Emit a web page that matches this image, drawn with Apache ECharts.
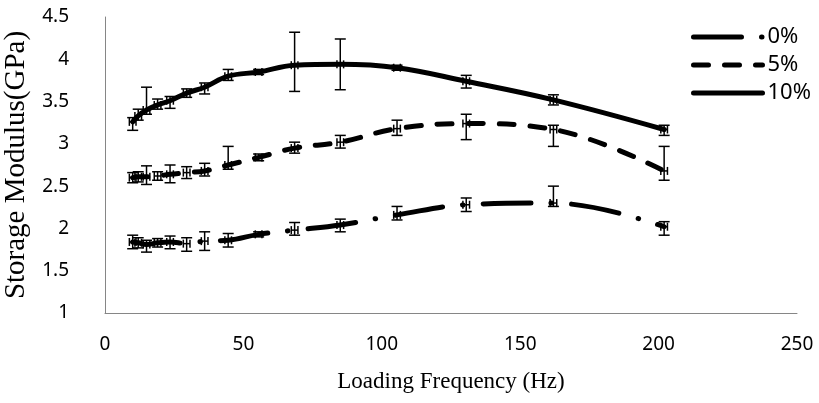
<!DOCTYPE html>
<html>
<head>
<meta charset="utf-8">
<script src="https://cdn.jsdelivr.net/npm/echarts@6/dist/echarts.min.js"></script>
<style>
  html, body { margin: 0; padding: 0; background: #fff; }
  #chart { width: 819px; height: 403px; }
</style>
</head>
<body>
<div id="chart"></div>
<script>
// loading frequency (Hz), shared by every curve
var freq = [10, 12, 15, 19, 23.5, 29.5, 36, 44.5, 55.5, 68.5, 85, 105.5, 130.5, 162, 202];
// small horizontal error on frequency
var freqErr = [1.2, 1.2, 1.2, 1.2, 1.2, 1.2, 1.2, 1.2, 1.2, 1.2, 1.2, 1.2, 1.2, 1.2, 1.2];

var names = ["0%", "5%", "10%"];

// storage modulus (GPa)
var mod0 = [1.84, 1.83, 1.81, 1.83, 1.84, 1.82, 1.85, 1.86, 1.93, 1.98, 2.04, 2.16, 2.28, 2.30, 2.02];
var up0 = [0.08, 0.06, 0.05, 0.05, 0.07, 0.07, 0.11, 0.08, 0.03, 0.09, 0.07, 0.10, 0.08, 0.20, 0.06];
var down0 = [0.08, 0.06, 0.09, 0.05, 0.08, 0.09, 0.11, 0.08, 0.03, 0.06, 0.08, 0.06, 0.08, 0.04, 0.10];

var mod5 = [2.60, 2.61, 2.61, 2.62, 2.64, 2.66, 2.68, 2.75, 2.84, 2.95, 3.02, 3.18, 3.24, 3.17, 2.68];
var up5 = [0.06, 0.06, 0.13, 0.05, 0.11, 0.07, 0.09, 0.22, 0.04, 0.07, 0.08, 0.10, 0.11, 0.05, 0.29];
var down5 = [0.06, 0.06, 0.09, 0.05, 0.10, 0.07, 0.06, 0.05, 0.04, 0.06, 0.07, 0.08, 0.19, 0.20, 0.11];

var mod10 = [3.26, 3.33, 3.40, 3.46, 3.51, 3.60, 3.67, 3.80, 3.85, 3.93, 3.94, 3.90, 3.74, 3.52, 3.17];
var up10 = [0.05, 0.08, 0.27, 0.07, 0.05, 0.05, 0.05, 0.08, 0.03, 0.39, 0.30, 0.03, 0.07, 0.06, 0.05];
var down10 = [0.10, 0.05, 0.05, 0.05, 0.09, 0.05, 0.08, 0.05, 0.03, 0.31, 0.30, 0.03, 0.08, 0.06, 0.07];

var xTicks = { min: 0, max: 250, interval: 50 };
var yTicks = { min: 1, max: 4.5, interval: 0.5 };

var chart = echarts.init(document.getElementById('chart'), null, { renderer: 'canvas' });

function points(vals) {
    return freq.map(function (f, i) { return [f, vals[i]]; });
}

function errRows(vals, up, down) {
    return freq.map(function (f, i) {
        return [f, vals[i], vals[i] - down[i], vals[i] + up[i], f - freqErr[i], f + freqErr[i]];
    });
}

// I-beam error bars in both directions
function renderErr(params, api) {
    var c = api.coord([api.value(0), api.value(1)]);
    var lo = api.coord([api.value(0), api.value(2)]);
    var hi = api.coord([api.value(0), api.value(3)]);
    var l = api.coord([api.value(4), api.value(1)]);
    var r = api.coord([api.value(5), api.value(1)]);
    var cap = 5.5, xcap = 4;
    var st = { stroke: '#000', lineWidth: 1.5 };
    return {
        type: 'group',
        children: [
            { type: 'line', shape: { x1: c[0], y1: lo[1], x2: c[0], y2: hi[1] }, style: st },
            { type: 'line', shape: { x1: c[0] - cap, y1: lo[1], x2: c[0] + cap, y2: lo[1] }, style: st },
            { type: 'line', shape: { x1: c[0] - cap, y1: hi[1], x2: c[0] + cap, y2: hi[1] }, style: st },
            { type: 'line', shape: { x1: l[0], y1: c[1], x2: r[0], y2: c[1] }, style: st },
            { type: 'line', shape: { x1: l[0], y1: c[1] - xcap, x2: l[0], y2: c[1] + xcap }, style: st },
            { type: 'line', shape: { x1: r[0], y1: c[1] - xcap, x2: r[0], y2: c[1] + xcap }, style: st }
        ]
    };
}

function lineSeries(name, vals, dash) {
    return {
        name: name,
        type: 'line',
        data: points(vals),
        smooth: 0.4,
        symbol: 'none',
        z: 2,
        lineStyle: { color: '#000', width: 5, type: dash, cap: 'round' },
        itemStyle: { color: '#000' }
    };
}

function errSeries(vals, up, down) {
    return {
        type: 'custom',
        renderItem: renderErr,
        data: errRows(vals, up, down),
        encode: { x: 0, y: 1 },
        z: 3,
        silent: true
    };
}

var option = {
    animation: false,
    backgroundColor: '#fff',
    grid: { left: 105, right: 22, top: 17, bottom: 90, outerBoundsMode: 'none', containLabel: false },
    legend: {
        data: names,
        orient: 'vertical',
        left: 691,
        top: 26,
        itemWidth: 69,
        itemHeight: 14,
        itemGap: 6,
        padding: 0,
        itemStyle: { opacity: 0 },
        lineStyle: { width: 5, cap: 'round' },
        textStyle: { fontFamily: "'Noto Sans', sans-serif", fontSize: 22, color: '#000' }
    },
    xAxis: {
        type: 'value',
        min: xTicks.min,
        max: xTicks.max,
        interval: xTicks.interval,
        name: 'Loading Frequency (Hz)',
        nameLocation: 'middle',
        nameGap: 57,
        nameTextStyle: { fontFamily: "'Liberation Serif', serif", fontSize: 23, color: '#000' },
        axisLine: { lineStyle: { color: '#868686', width: 1 } },
        axisTick: { show: false },
        splitLine: { show: false },
        axisLabel: { margin: 22, fontFamily: "'Noto Sans', sans-serif", fontSize: 19, color: '#000' }
    },
    yAxis: {
        type: 'value',
        min: yTicks.min,
        max: yTicks.max,
        interval: yTicks.interval,
        name: 'Storage Modulus(GPa)',
        nameLocation: 'middle',
        nameGap: 70,
        nameTextStyle: { fontFamily: "'Liberation Serif', serif", fontSize: 29, color: '#000' },
        axisLine: { show: true, lineStyle: { color: '#868686', width: 1 } },
        axisTick: { show: false },
        splitLine: { show: false },
        axisLabel: { margin: 36, fontFamily: "'Noto Sans', sans-serif", fontSize: 19, color: '#000' }
    },
    series: [
        lineSeries(names[0], mod0, [48, 20, 0.5, 20]),
        lineSeries(names[1], mod5, [15, 16]),
        lineSeries(names[2], mod10, 'solid'),
        errSeries(mod0, up0, down0),
        errSeries(mod5, up5, down5),
        errSeries(mod10, up10, down10)
    ]
};

chart.setOption(option);
</script>
</body>
</html>
